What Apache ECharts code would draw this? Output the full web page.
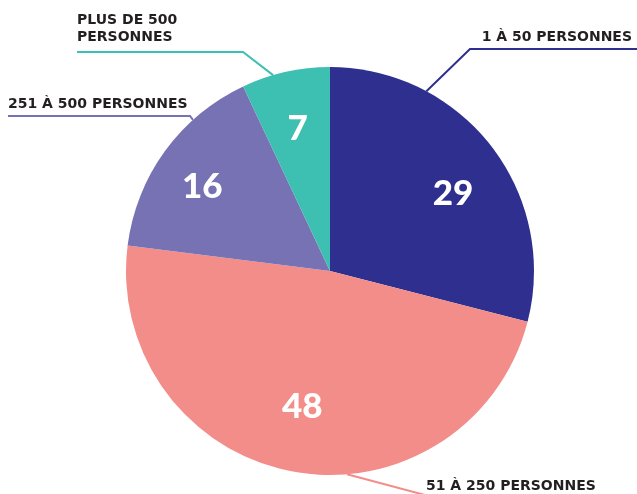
<!DOCTYPE html>
<html lang="fr">
<head>
  <meta charset="UTF-8">
  <title>Taille des structures</title>
  <style>
    html,
    body {
      padding: 0;
      margin: 0;
      background: #fff;
    }
    #chart {
      width: 637px;
      height: 494px;
    }
  </style>
  <script src="https://cdn.jsdelivr.net/npm/echarts@6/dist/echarts.min.js"></script>
</head>
<body>
  <div id="chart"></div>
  <script>
    const categories = ['1 À 50 PERSONNES', '51 À 250 PERSONNES', '251 À 500 PERSONNES', 'PLUS DE 500\nPERSONNES']
    const values = [29, 48, 16, 7]
    const colors = ['#2e2f8f', '#f38d89', '#7772b3', '#3dbfb1']

    const cx = 330
    const cy = 271
    const r = 204

    // where each label line leaves the pie (deg, clockwise from top), its elbow / end, and the text anchor
    const labelSpots = [
      { angle: 28.2, elbow: [470, 49], end: [637, 49], text: [632, 37], align: 'right' },
      { angle: 175.2, elbow: [440, 499], end: [637, 499], text: [426, 486], align: 'left' },
      { angle: 317.8, elbow: [190, 116], end: [8, 116], text: [8, 104], align: 'left' },
      { angle: 343.8, elbow: [243, 52], end: [77, 52], text: [77, 29], align: 'left' }
    ]
    // small nudges for the numbers inside the slices
    const innerNudge = [[6, 13], [0, -10], [-8, 3], [0, 2]]

    const chart = echarts.init(document.getElementById('chart'))

    const data = categories.map((name, i) => ({
      name,
      value: values[i],
      itemStyle: { color: colors[i] }
    }))

    const option = {
      animation: false,
      series: [{
        type: 'pie',
        center: [cx, cy],
        radius: [0, r],
        avoidLabelOverlap: false,
        silent: true,
        itemStyle: { borderWidth: 0 },
        label: {
          show: true,
          formatter: '{b}',
          color: '#231f20',
          fontFamily: 'DejaVu Sans',
          fontWeight: 'bold',
          fontSize: 14,
          lineHeight: 17
        },
        labelLine: {
          show: true,
          lineStyle: { width: 2 }
        },
        labelLayout: params => {
          const s = labelSpots[params.dataIndex]
          const a = s.angle * Math.PI / 180
          const start = [cx + r * Math.sin(a), cy - r * Math.cos(a)]
          return {
            x: s.text[0],
            y: s.text[1],
            align: s.align,
            verticalAlign: 'middle',
            labelLinePoints: [start, s.elbow, s.end]
          }
        },
        data
      }, {
        type: 'pie',
        center: [cx, cy],
        radius: [86, r],
        avoidLabelOverlap: false,
        silent: true,
        itemStyle: { color: 'rgba(0,0,0,0)', borderWidth: 0 },
        label: {
          show: true,
          position: 'inside',
          formatter: '{c}',
          color: '#fff',
          fontFamily: 'Lato',
          fontWeight: 900,
          fontSize: 35
        },
        labelLine: { show: false },
        labelLayout: params => ({
          dx: innerNudge[params.dataIndex][0],
          dy: innerNudge[params.dataIndex][1]
        }),
        data: values.map((v, i) => ({ name: categories[i], value: v }))
      }]
    }
    chart.setOption(option)
  </script>
</body>
</html>
